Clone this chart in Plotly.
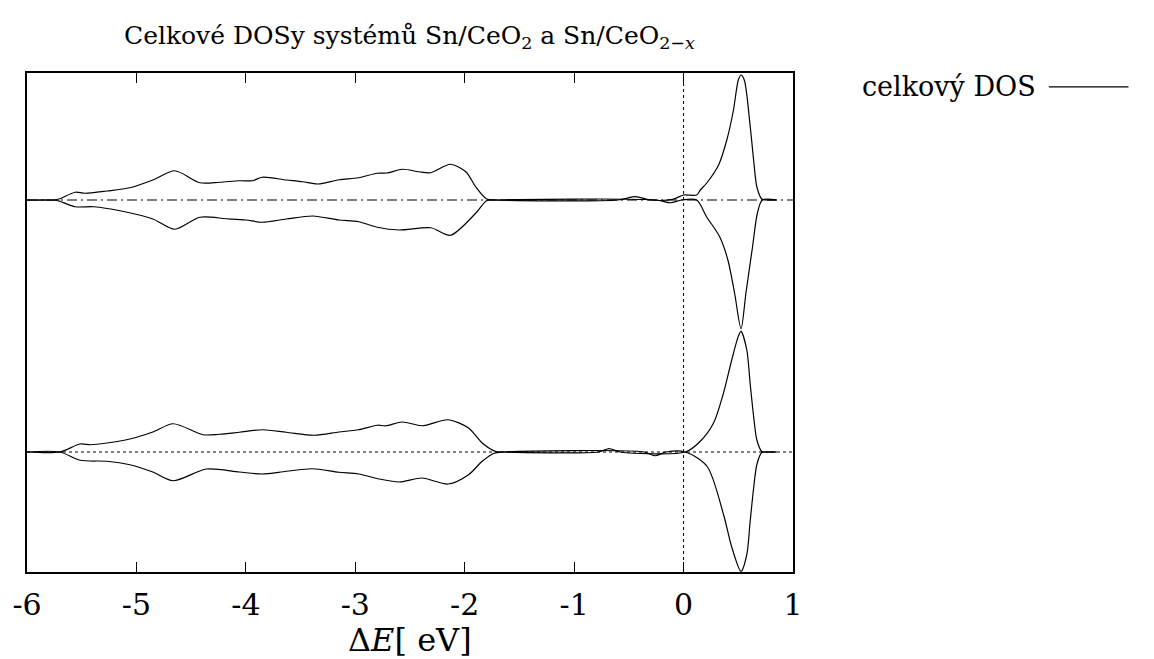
import plotly.graph_objects as go

# ---- data (DOS in arbitrary units) ----
# Sn/CeO2-x (upper panel), spin up
x_up_a = [-6.0, -5.75, -5.70, -5.56, -5.47, -5.27, -5.06, -4.85, -4.65, -4.42, -4.24, -4.06, -3.94,
          -3.85, -3.63, -3.48, -3.34, -3.15, -2.97, -2.80, -2.71, -2.57, -2.42, -2.31, -2.13, -1.99,
          -1.90, -1.80, -1.72, -0.60, -0.44, -0.30, -0.10, 0.0, 0.12, 0.153, 0.21, 0.32, 0.395, 0.456,
          0.50, 0.525, 0.555, 0.61, 0.64, 0.67, 0.715, 0.75, 0.85]
y_up_a = [0.0, 0.0, 0.01, 0.062, 0.054, 0.072, 0.098, 0.16, 0.234, 0.138, 0.142, 0.154, 0.154,
          0.182, 0.16, 0.146, 0.128, 0.162, 0.178, 0.214, 0.216, 0.246, 0.226, 0.218, 0.286, 0.226,
          0.106, 0.008, 0.0, 0.0, 0.027, 0.0, 0.005, 0.04, 0.04, 0.08, 0.134, 0.28, 0.48, 0.72,
          0.96, 1.0, 0.96, 0.58, 0.32, 0.104, 0.008, 0.0, 0.0]
# Sn/CeO2-x, spin down
x_dn_a = [-6.0, -5.75, -5.70, -5.56, -5.39, -5.15, -4.85, -4.65, -4.42, -4.18, -4.0, -3.85, -3.63,
          -3.39, -3.15, -2.97, -2.80, -2.60, -2.31, -2.13, -1.90, -1.80, -1.72, -0.25, -0.12, -0.02,
          0.12, 0.21, 0.33, 0.405, 0.466, 0.525, 0.57, 0.63, 0.675, 0.72, 0.85]
y_dn_a = [0.0, 0.0, -0.01, -0.054, -0.054, -0.086, -0.152, -0.234, -0.138, -0.15, -0.16, -0.178, -0.152,
          -0.128, -0.16, -0.174, -0.218, -0.24, -0.222, -0.282, -0.106, -0.006, 0.0, 0.0, -0.022, 0.0,
          0.0, -0.134, -0.294, -0.48, -0.744, -1.03, -0.744, -0.376, -0.104, 0.0, 0.0]
# Sn/CeO2 (lower panel), spin up
x_up_b = [-6.0, -5.70, -5.515, -5.42, -5.27, -5.06, -4.85, -4.665, -4.39, -4.24, -4.06, -3.85, -3.63,
          -3.375, -3.15, -2.97, -2.80, -2.72, -2.57, -2.39, -2.15, -1.965, -1.84, -1.72, -1.65, -0.78,
          -0.68, -0.58, 0.017, 0.153, 0.274, 0.365, 0.44, 0.50, 0.525, 0.578, 0.608, 0.64, 0.67,
          0.715, 0.75, 0.85]
y_up_b = [0.0, 0.0, 0.064, 0.058, 0.072, 0.104, 0.16, 0.226, 0.138, 0.142, 0.158, 0.178, 0.158,
          0.134, 0.16, 0.178, 0.214, 0.21, 0.24, 0.21, 0.258, 0.192, 0.072, 0.005, 0.0, 0.0,
          0.027, 0.0, 0.0, 0.086, 0.232, 0.472, 0.736, 0.925, 0.965, 0.816, 0.552, 0.285, 0.096,
          0.004, 0.0, 0.0]
# Sn/CeO2, spin down
x_dn_b = [-6.0, -5.70, -5.515, -5.27, -5.06, -4.85, -4.665, -4.36, -4.06, -3.85, -3.63, -3.39, -3.15,
          -2.97, -2.78, -2.60, -2.39, -2.15, -1.965, -1.84, -1.73, -1.65, -0.36, -0.26, -0.16, 0.017,
          0.214, 0.365, 0.44, 0.525, 0.578, 0.608, 0.64, 0.67, 0.715, 0.75, 0.85]
y_dn_b = [0.0, 0.0, -0.066, -0.074, -0.102, -0.16, -0.23, -0.136, -0.16, -0.176, -0.154, -0.134, -0.162,
          -0.176, -0.216, -0.24, -0.208, -0.256, -0.182, -0.074, -0.01, 0.0, 0.0, -0.03, 0.0, 0.0,
          -0.114, -0.5, -0.76, -0.955, -0.82, -0.56, -0.29, -0.1, -0.004, 0.0, 0.0]

offset_a = 0.0
offset_b = -2.016
x_ticks = [-6, -5, -4, -3, -2, -1, 0, 1]
x_ticktext = ["-6", "-5", "-4", "-3", "-2", "-1", "0", "1"]

title_text = "Celkové DOSy systémů Sn/CeO<sub>2</sub> a Sn/CeO<sub>2−<i>x</i></sub>"
xlabel_text = "Δ<i>E</i>[ eV]"
legend_text = "celkový DOS"

FONT = "DejaVu Serif"

fig = go.Figure()

# zero lines
fig.add_trace(go.Scatter(x=[-6, 1], y=[offset_a, offset_a], mode="lines",
                         line=dict(color="black", width=1.2, dash="10px,4px,2px,4px"),
                         showlegend=False, hoverinfo="skip"))
fig.add_trace(go.Scatter(x=[-6, 1], y=[offset_b, offset_b], mode="lines",
                         line=dict(color="black", width=1, dash="dot"),
                         showlegend=False, hoverinfo="skip"))

for xs, ys, off in [(x_up_a, y_up_a, offset_a), (x_dn_a, y_dn_a, offset_a),
                    (x_up_b, y_up_b, offset_b), (x_dn_b, y_dn_b, offset_b)]:
    fig.add_trace(go.Scatter(x=xs, y=[v + off for v in ys], mode="lines",
                             line=dict(color="black", width=1.2, shape="spline", smoothing=0.8),
                             showlegend=False))

# vertical Fermi level line
fig.add_shape(type="line", xref="x", yref="paper", x0=0, x1=0, y0=0, y1=1,
              line=dict(color="black", width=1, dash="dot"))

# manual legend
fig.add_shape(type="line", xref="paper", yref="paper", x0=1.334, x1=1.438, y0=0.972, y1=0.972,
              line=dict(color="black", width=1.2))
fig.add_annotation(text=legend_text, xref="paper", yref="paper", x=1.32, y=0.972,
                   xanchor="right", yanchor="middle", showarrow=False,
                   font=dict(family=FONT, size=27, color="black"))

# title
fig.add_annotation(text=title_text, xref="paper", yref="paper", x=0.4994, y=1.072,
                   xanchor="center", yanchor="middle", showarrow=False,
                   font=dict(family=FONT, size=25, color="black"))
# x label
fig.add_annotation(text=xlabel_text, xref="paper", yref="paper", x=0.4994, y=-0.136,
                   xanchor="center", yanchor="middle", showarrow=False,
                   font=dict(family=FONT, size=32, color="black"))

fig.update_layout(
    width=1154, height=659,
    margin=dict(l=24, r=361, t=73, b=87),
    paper_bgcolor="white", plot_bgcolor="white",
    showlegend=False,
    font=dict(family=FONT),
    xaxis=dict(range=[-6, 1], tickvals=x_ticks, ticktext=x_ticktext,
               ticks="inside", ticklen=10, tickwidth=1, tickcolor="black",
               showline=True, linecolor="black", linewidth=1.5, mirror="allticks",
               showgrid=False, zeroline=False, ticklabelstandoff=5,
               tickfont=dict(family=FONT, size=30, color="black")),
    yaxis=dict(range=[-2.976, 1.016], showticklabels=False, ticks="",
               showline=True, linecolor="black", linewidth=1.5, mirror=True,
               showgrid=False, zeroline=False),
)

fig.write_html("out.html")
